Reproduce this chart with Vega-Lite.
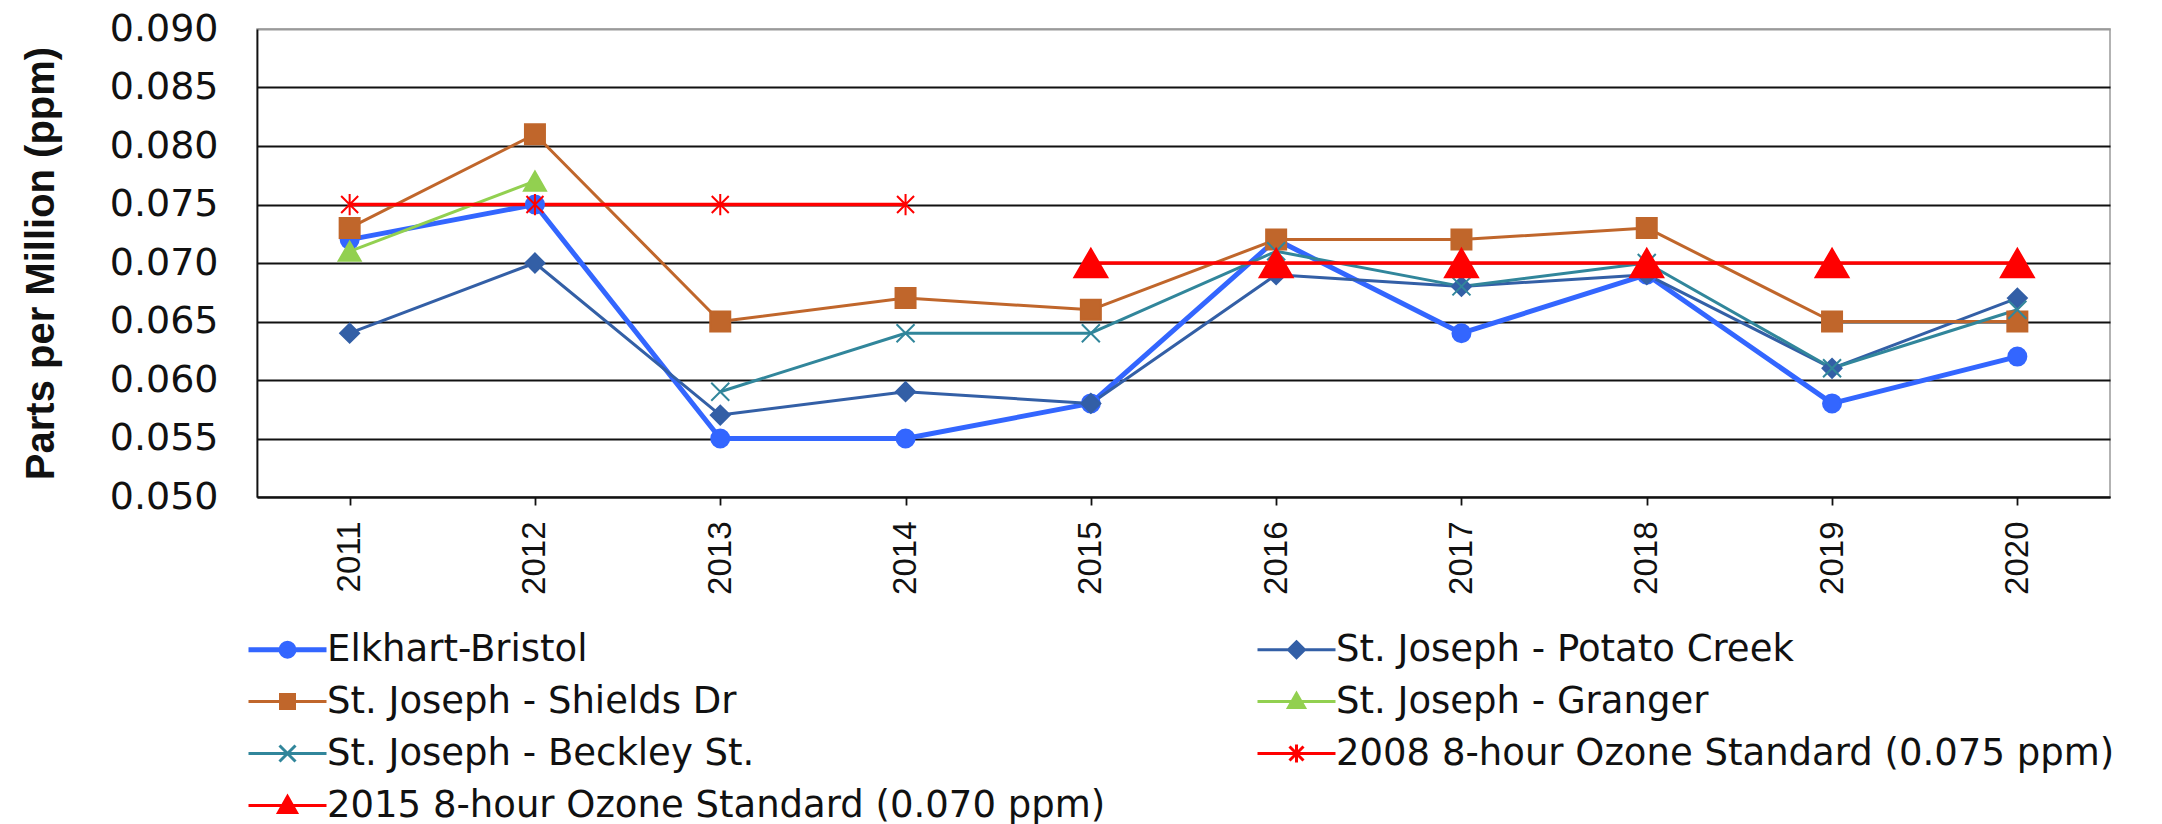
{
  "$schema": "https://vega.github.io/schema/vega-lite/v6.json",
  "width": 1853,
  "height": 468,
  "autosize": {"type": "none"},
  "padding": {"left": 257, "top": 29, "right": 52, "bottom": 327},
  "background": "white",
  "config": {
    "view": {"stroke": "#9a9a9a", "strokeWidth": 1.5},
    "axis": {"labelColor": "#111111", "titleColor": "#111111", "domainColor": "#111111", "tickColor": "#111111", "domainWidth": 1.8, "tickWidth": 1.8},
    "legend": {"symbolFillColor": "#000000"}
  },
  "data": {
    "values": [
      {"year": "2011", "series": "Elkhart-Bristol", "ppm": 0.072},
      {"year": "2012", "series": "Elkhart-Bristol", "ppm": 0.075},
      {"year": "2013", "series": "Elkhart-Bristol", "ppm": 0.055},
      {"year": "2014", "series": "Elkhart-Bristol", "ppm": 0.055},
      {"year": "2015", "series": "Elkhart-Bristol", "ppm": 0.058},
      {"year": "2016", "series": "Elkhart-Bristol", "ppm": 0.072},
      {"year": "2017", "series": "Elkhart-Bristol", "ppm": 0.064},
      {"year": "2018", "series": "Elkhart-Bristol", "ppm": 0.069},
      {"year": "2019", "series": "Elkhart-Bristol", "ppm": 0.058},
      {"year": "2020", "series": "Elkhart-Bristol", "ppm": 0.062},
      {"year": "2011", "series": "St. Joseph - Potato Creek", "ppm": 0.064},
      {"year": "2012", "series": "St. Joseph - Potato Creek", "ppm": 0.070},
      {"year": "2013", "series": "St. Joseph - Potato Creek", "ppm": 0.057},
      {"year": "2014", "series": "St. Joseph - Potato Creek", "ppm": 0.059},
      {"year": "2015", "series": "St. Joseph - Potato Creek", "ppm": 0.058},
      {"year": "2016", "series": "St. Joseph - Potato Creek", "ppm": 0.069},
      {"year": "2017", "series": "St. Joseph - Potato Creek", "ppm": 0.068},
      {"year": "2018", "series": "St. Joseph - Potato Creek", "ppm": 0.069},
      {"year": "2019", "series": "St. Joseph - Potato Creek", "ppm": 0.061},
      {"year": "2020", "series": "St. Joseph - Potato Creek", "ppm": 0.067},
      {"year": "2011", "series": "St. Joseph - Shields Dr", "ppm": 0.073},
      {"year": "2012", "series": "St. Joseph - Shields Dr", "ppm": 0.081},
      {"year": "2013", "series": "St. Joseph - Shields Dr", "ppm": 0.065},
      {"year": "2014", "series": "St. Joseph - Shields Dr", "ppm": 0.067},
      {"year": "2015", "series": "St. Joseph - Shields Dr", "ppm": 0.066},
      {"year": "2016", "series": "St. Joseph - Shields Dr", "ppm": 0.072},
      {"year": "2017", "series": "St. Joseph - Shields Dr", "ppm": 0.072},
      {"year": "2018", "series": "St. Joseph - Shields Dr", "ppm": 0.073},
      {"year": "2019", "series": "St. Joseph - Shields Dr", "ppm": 0.065},
      {"year": "2020", "series": "St. Joseph - Shields Dr", "ppm": 0.065},
      {"year": "2011", "series": "St. Joseph - Granger", "ppm": 0.071},
      {"year": "2012", "series": "St. Joseph - Granger", "ppm": 0.077},
      {"year": "2013", "series": "St. Joseph - Beckley St.", "ppm": 0.059},
      {"year": "2014", "series": "St. Joseph - Beckley St.", "ppm": 0.064},
      {"year": "2015", "series": "St. Joseph - Beckley St.", "ppm": 0.064},
      {"year": "2016", "series": "St. Joseph - Beckley St.", "ppm": 0.071},
      {"year": "2017", "series": "St. Joseph - Beckley St.", "ppm": 0.068},
      {"year": "2018", "series": "St. Joseph - Beckley St.", "ppm": 0.070},
      {"year": "2019", "series": "St. Joseph - Beckley St.", "ppm": 0.061},
      {"year": "2020", "series": "St. Joseph - Beckley St.", "ppm": 0.066},
      {"year": "2011", "series": "2008 8-hour Ozone Standard (0.075 ppm)", "ppm": 0.075},
      {"year": "2012", "series": "2008 8-hour Ozone Standard (0.075 ppm)", "ppm": 0.075},
      {"year": "2013", "series": "2008 8-hour Ozone Standard (0.075 ppm)", "ppm": 0.075},
      {"year": "2014", "series": "2008 8-hour Ozone Standard (0.075 ppm)", "ppm": 0.075},
      {"year": "2015", "series": "2015 8-hour Ozone Standard (0.070 ppm)", "ppm": 0.070},
      {"year": "2016", "series": "2015 8-hour Ozone Standard (0.070 ppm)", "ppm": 0.070},
      {"year": "2017", "series": "2015 8-hour Ozone Standard (0.070 ppm)", "ppm": 0.070},
      {"year": "2018", "series": "2015 8-hour Ozone Standard (0.070 ppm)", "ppm": 0.070},
      {"year": "2019", "series": "2015 8-hour Ozone Standard (0.070 ppm)", "ppm": 0.070},
      {"year": "2020", "series": "2015 8-hour Ozone Standard (0.070 ppm)", "ppm": 0.070}
    ]
  },
  "encoding": {
    "x": {
      "field": "year", "type": "ordinal",
      "scale": {"type": "point", "padding": 0.5},
      "axis": {"title": null, "labelAngle": -90, "labelFont": "Liberation Sans", "labelFontSize": 33, "labelPadding": 16, "tickSize": 8, "grid": false}
    },
    "y": {
      "field": "ppm", "type": "quantitative",
      "scale": {"domain": [0.05, 0.09], "nice": false, "zero": false},
      "axis": {
        "title": "Parts per Million (ppm)", "titleFont": "Liberation Sans", "titleFontWeight": "bold", "titleFontSize": 40, "titlePadding": 48,
        "values": [0.05, 0.055, 0.06, 0.065, 0.07, 0.075, 0.08, 0.085, 0.09],
        "format": ".3f", "labelFont": "DejaVu Sans", "labelFontSize": 38, "labelPadding": 39, "ticks": false,
        "grid": true, "gridWidth": 1.8,
        "gridColor": {"condition": {"test": "datum.value > 0.0899", "value": "#9a9a9a"}, "value": "#111111"}
      }
    }
  },
  "layer": [
    {
      "mark": {"type": "line", "strokeJoin": "round"},
      "encoding": {
        "detail": {"field": "series", "type": "nominal"},
        "color": {
          "condition": [
            {"test": "datum.series === 'Elkhart-Bristol'", "value": "#3366ff"},
            {"test": "datum.series === 'St. Joseph - Potato Creek'", "value": "#335fa6"},
            {"test": "datum.series === 'St. Joseph - Shields Dr'", "value": "#c0662b"},
            {"test": "datum.series === 'St. Joseph - Granger'", "value": "#92d050"},
            {"test": "datum.series === 'St. Joseph - Beckley St.'", "value": "#31869b"}
          ],
          "value": "#ff0000"
        },
        "strokeWidth": {
          "condition": [
            {"test": "datum.series === 'Elkhart-Bristol'", "value": 5},
            {"test": "indexof(datum.series, 'Standard') >= 0", "value": 3.5}
          ],
          "value": 3
        }
      }
    },
    {
      "mark": {"type": "point", "filled": true, "opacity": 1, "strokeWidth": 2},
      "encoding": {
        "fill": {
          "condition": [
            {"test": "datum.series === 'Elkhart-Bristol'", "value": "#3366ff"},
            {"test": "datum.series === 'St. Joseph - Potato Creek'", "value": "#335fa6"},
            {"test": "datum.series === 'St. Joseph - Shields Dr'", "value": "#c0662b"},
            {"test": "datum.series === 'St. Joseph - Granger'", "value": "#92d050"},
            {"test": "datum.series === 'St. Joseph - Beckley St.'", "value": "#31869b"}
          ],
          "value": "#ff0000"
        },
        "stroke": {
          "condition": [
            {"test": "datum.series === 'Elkhart-Bristol'", "value": "#3366ff"},
            {"test": "datum.series === 'St. Joseph - Potato Creek'", "value": "#335fa6"},
            {"test": "datum.series === 'St. Joseph - Shields Dr'", "value": "#c0662b"},
            {"test": "datum.series === 'St. Joseph - Granger'", "value": "#92d050"},
            {"test": "datum.series === 'St. Joseph - Beckley St.'", "value": "#31869b"}
          ],
          "value": "#ff0000"
        },
        "shape": {
          "condition": [
            {"test": "datum.series === 'Elkhart-Bristol'", "value": "circle"},
            {"test": "datum.series === 'St. Joseph - Potato Creek'", "value": "diamond"},
            {"test": "datum.series === 'St. Joseph - Shields Dr'", "value": "square"},
            {"test": "datum.series === 'St. Joseph - Granger'", "value": "triangle-up"},
            {"test": "datum.series === 'St. Joseph - Beckley St.'", "value": "M-1,-1L1,1M-1,1L1,-1"},
            {"test": "datum.series === '2008 8-hour Ozone Standard (0.075 ppm)'", "value": "M-1,-1L1,1M-1,1L1,-1M0,-1.25L0,1.25"}
          ],
          "value": "triangle-up"
        },
        "size": {
          "condition": [
            {"test": "datum.series === 'Elkhart-Bristol'", "value": 324},
            {"test": "datum.series === 'St. Joseph - Potato Creek'", "value": 361},
            {"test": "datum.series === 'St. Joseph - Shields Dr'", "value": 400},
            {"test": "datum.series === 'St. Joseph - Granger'", "value": 484},
            {"test": "datum.series === 'St. Joseph - Beckley St.'", "value": 324},
            {"test": "datum.series === '2008 8-hour Ozone Standard (0.075 ppm)'", "value": 289}
          ],
          "value": 1089
        }
      }
    },
    {
      "mark": {"type": "point", "filled": true, "opacity": 0},
      "encoding": {
        "fill": {
          "field": "series", "type": "nominal",
          "scale": {
            "domain": ["Elkhart-Bristol", "St. Joseph - Shields Dr", "St. Joseph - Beckley St.", "2015 8-hour Ozone Standard (0.070 ppm)", "St. Joseph - Potato Creek", "St. Joseph - Granger", "2008 8-hour Ozone Standard (0.075 ppm)"],
            "range": ["#3366ff", "#c0662b", "#31869b", "#ff0000", "#335fa6", "#92d050", "#ff0000"]
          },
          "legend": {
            "title": null, "orient": "none", "legendX": -8, "legendY": 602, "columns": 2, "columnPadding": 145, "rowPadding": 14,
            "labelFont": "DejaVu Sans", "labelFontSize": 37, "labelColor": "#111111", "labelLimit": 2000,
            "symbolSize": 400, "symbolOffset": 20, "labelOffset": 21, "symbolOpacity": 1
          }
        },
        "stroke": {
          "field": "series", "type": "nominal",
          "scale": {
            "domain": ["Elkhart-Bristol", "St. Joseph - Shields Dr", "St. Joseph - Beckley St.", "2015 8-hour Ozone Standard (0.070 ppm)", "St. Joseph - Potato Creek", "St. Joseph - Granger", "2008 8-hour Ozone Standard (0.075 ppm)"],
            "range": ["#3366ff", "#c0662b", "#31869b", "#ff0000", "#335fa6", "#92d050", "#ff0000"]
          }
        },
        "shape": {
          "field": "series", "type": "nominal",
          "scale": {
            "domain": ["Elkhart-Bristol", "St. Joseph - Shields Dr", "St. Joseph - Beckley St.", "2015 8-hour Ozone Standard (0.070 ppm)", "St. Joseph - Potato Creek", "St. Joseph - Granger", "2008 8-hour Ozone Standard (0.075 ppm)"],
            "range": [
              "M-3.9,0L3.9,0M0.65,0A0.65,0.65,0,1,1,-0.65,0A0.65,0.65,0,1,1,0.65,0Z",
              "M-3.9,0L3.9,0M-0.7,-0.7L0.7,-0.7L0.7,0.7L-0.7,0.7Z",
              "M-3.9,0L3.9,0M-0.8,-0.8L0.8,0.8M-0.8,0.8L0.8,-0.8",
              "M-3.9,0L3.9,0M0,-0.9L0.9,0.7L-0.9,0.7Z",
              "M-3.9,0L3.9,0M0,-0.8L0.8,0L0,0.8L-0.8,0Z",
              "M-3.9,0L3.9,0M0,-0.8L0.8,0.6L-0.8,0.6Z",
              "M-3.9,0L3.9,0M-0.7,-0.7L0.7,0.7M-0.7,0.7L0.7,-0.7M0,-0.9L0,0.9"
            ]
          }
        },
        "strokeWidth": {
          "field": "series", "type": "nominal",
          "scale": {
            "type": "ordinal",
            "domain": ["Elkhart-Bristol", "St. Joseph - Shields Dr", "St. Joseph - Beckley St.", "2015 8-hour Ozone Standard (0.070 ppm)", "St. Joseph - Potato Creek", "St. Joseph - Granger", "2008 8-hour Ozone Standard (0.075 ppm)"],
            "range": [5, 3, 3, 3, 3, 3, 3]
          }
        }
      }
    }
  ]
}
